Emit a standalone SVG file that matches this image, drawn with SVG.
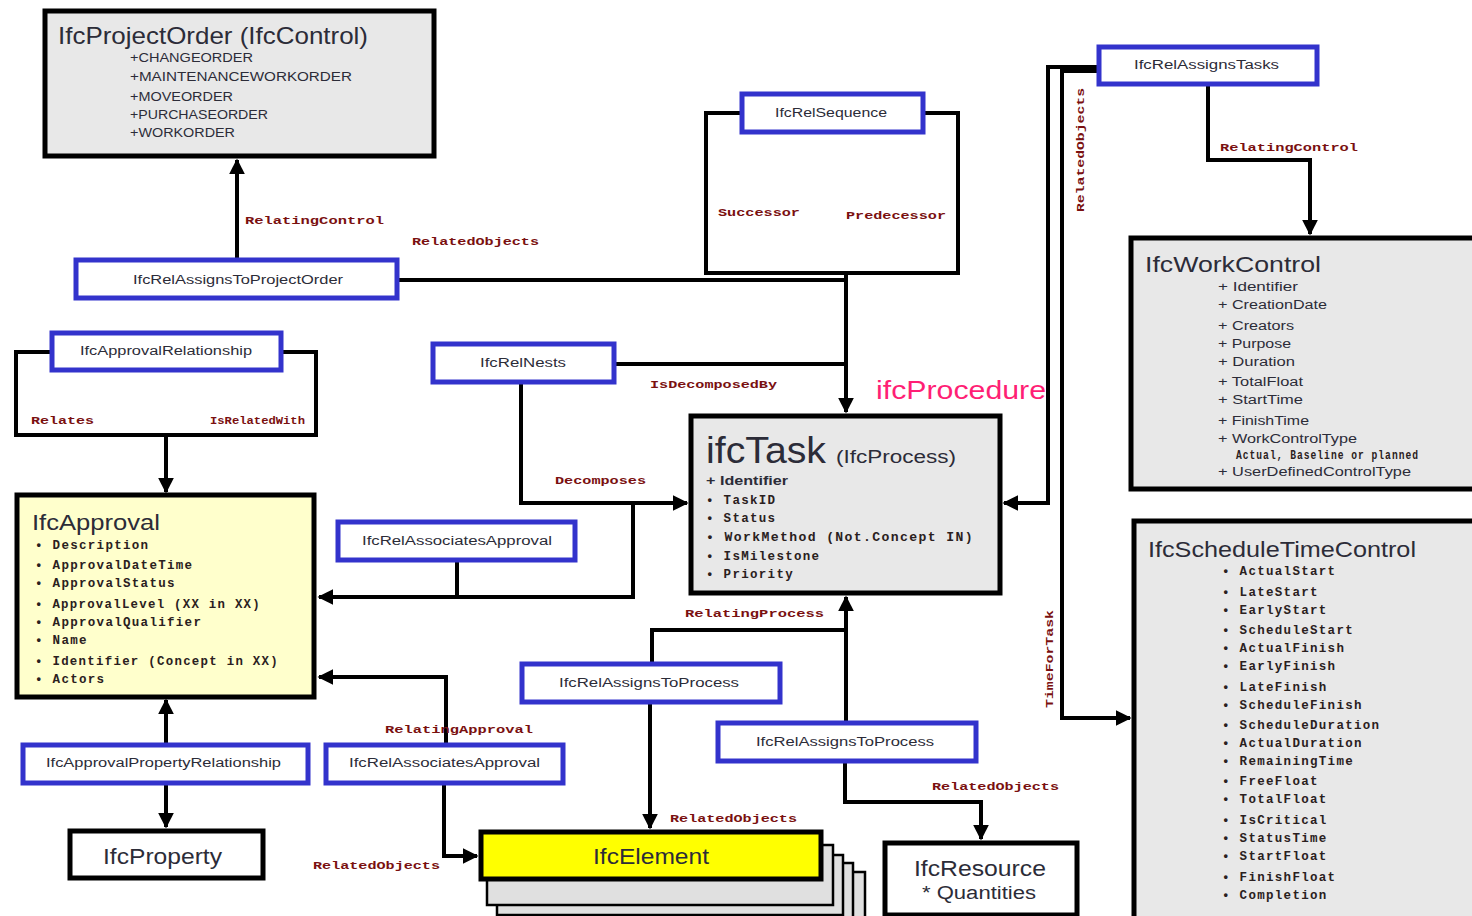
<svg xmlns="http://www.w3.org/2000/svg" width="1472" height="916" viewBox="0 0 1472 916">
<style>
.bg{fill:#ffffff}
.cls{fill:#e8e8e8;stroke:#000;stroke-width:5}
.rel{fill:#ffffff;stroke:#3333cc;stroke-width:5}
.con{fill:none;stroke:#000;stroke-width:4}
.title{font-family:"Liberation Sans",Arial,sans-serif;fill:#2c2c38}
.reltxt{font-family:"Liberation Sans",Arial,sans-serif;font-size:12px;fill:#2c2c38}
.item{font-family:"Liberation Sans",Arial,sans-serif;font-size:12px;fill:#2c2c38}
.mono{font-family:"Liberation Mono",monospace;font-weight:bold;font-size:12.5px;letter-spacing:1.3px;fill:#2a2020}
.lbl{font-family:"Liberation Mono",monospace;font-weight:bold;font-size:11px;fill:#7a1010}
</style>
<defs>
<marker id="arr" viewBox="0 0 10 10" refX="9" refY="5" markerWidth="16" markerHeight="18" orient="auto" markerUnits="userSpaceOnUse">
<path d="M0,0 L10,5 L0,10 z" fill="#000"/>
</marker>
</defs>
<rect class="bg" x="0" y="0" width="1472" height="916"/>

<g id="connectors">
<path class="con" d="M237,259 V160" marker-end="url(#arr)"/>
<path class="con" d="M398,280 H847"/>
<path class="con" d="M741,113 H706 V273 H958 V113 H924" stroke-width="5"/>
<path class="con" d="M846,273 V412" marker-end="url(#arr)"/>
<path class="con" d="M615,364 H846"/>
<path class="con" d="M521,383 V503 H687" marker-end="url(#arr)"/>
<path class="con" d="M633,503 V597 H319" marker-end="url(#arr)"/>
<path class="con" d="M457,561 V597"/>
<path class="con" d="M1098,67 H1048 V503 H1004" marker-end="url(#arr)"/>
<path class="con" d="M1098,71 H1062 V718 H1130" marker-end="url(#arr)"/>
<path class="con" d="M1208,85 V160 H1310 V234" marker-end="url(#arr)"/>
<path class="con" d="M51,352 H16 V435 H316 V352 H282" stroke-width="5"/>
<path class="con" d="M166,435 V492" marker-end="url(#arr)"/>
<path class="con" d="M166,744 V700" marker-end="url(#arr)"/>
<path class="con" d="M166,784 V827" marker-end="url(#arr)"/>
<path class="con" d="M446,744 V677 H319" marker-end="url(#arr)"/>
<path class="con" d="M444,784 V856 H477" marker-end="url(#arr)"/>
<path class="con" d="M652,663 V630 H846"/>
<path class="con" d="M846,722 V597" marker-end="url(#arr)"/>
<path class="con" d="M650,703 V828" marker-end="url(#arr)"/>
<path class="con" d="M845,762 V802 H981 V839" marker-end="url(#arr)"/>

<text class="lbl" x="245" y="224" textLength="139" lengthAdjust="spacingAndGlyphs">RelatingControl</text>
<text class="lbl" x="412" y="245" textLength="127" lengthAdjust="spacingAndGlyphs">RelatedObjects</text>
<text class="lbl" x="718" y="216" textLength="82" lengthAdjust="spacingAndGlyphs">Successor</text>
<text class="lbl" x="846" y="219" textLength="100" lengthAdjust="spacingAndGlyphs">Predecessor</text>
<text class="lbl" x="1220" y="151" textLength="138" lengthAdjust="spacingAndGlyphs">RelatingControl</text>
<text class="lbl" transform="translate(1084,212) rotate(-90)" x="0" y="0" textLength="124" lengthAdjust="spacingAndGlyphs">RelatedObjects</text>
<text class="lbl" transform="translate(1053,708) rotate(-90)" x="0" y="0" textLength="98" lengthAdjust="spacingAndGlyphs">TimeForTask</text>
<text class="lbl" x="31" y="424" textLength="63" lengthAdjust="spacingAndGlyphs">Relates</text>
<text class="lbl" x="210" y="424" textLength="95" lengthAdjust="spacingAndGlyphs">IsRelatedWith</text>
<text class="lbl" x="650" y="388" textLength="127" lengthAdjust="spacingAndGlyphs">IsDecomposedBy</text>
<text class="lbl" x="555" y="484" textLength="91" lengthAdjust="spacingAndGlyphs">Decomposes</text>
<text class="lbl" x="685" y="617" textLength="139" lengthAdjust="spacingAndGlyphs">RelatingProcess</text>
<text class="lbl" x="385" y="733" textLength="148" lengthAdjust="spacingAndGlyphs">RelatingApproval</text>
<text class="lbl" x="670" y="822" textLength="127" lengthAdjust="spacingAndGlyphs">RelatedObjects</text>
<text class="lbl" x="932" y="790" textLength="127" lengthAdjust="spacingAndGlyphs">RelatedObjects</text>
<text class="lbl" x="313" y="869" textLength="127" lengthAdjust="spacingAndGlyphs">RelatedObjects</text>
</g>

<g id="IfcProjectOrder">
<rect class="cls" x="45" y="11" width="389" height="145"/>
<text class="title" x="58" y="44" font-size="24" textLength="310" lengthAdjust="spacingAndGlyphs">IfcProjectOrder (IfcControl)</text>
<text class="item" x="130" y="62" textLength="123" lengthAdjust="spacingAndGlyphs">+CHANGEORDER</text>
<text class="item" x="130" y="81" textLength="222" lengthAdjust="spacingAndGlyphs">+MAINTENANCEWORKORDER</text>
<text class="item" x="130" y="101" textLength="103" lengthAdjust="spacingAndGlyphs">+MOVEORDER</text>
<text class="item" x="130" y="119" textLength="138" lengthAdjust="spacingAndGlyphs">+PURCHASEORDER</text>
<text class="item" x="130" y="137" textLength="105" lengthAdjust="spacingAndGlyphs">+WORKORDER</text>
</g>

<g id="IfcRelAssignsToProjectOrder">
<rect class="rel" x="76" y="260" width="321" height="38"/>
<text class="reltxt" x="133" y="284" textLength="210" lengthAdjust="spacingAndGlyphs">IfcRelAssignsToProjectOrder</text>
</g>

<g id="IfcRelSequence">
<rect class="rel" x="742" y="94" width="181" height="38"/>
<text class="reltxt" x="775" y="117" textLength="112" lengthAdjust="spacingAndGlyphs">IfcRelSequence</text>
</g>

<g id="IfcRelAssignsTasks">
<rect class="rel" x="1099" y="47" width="218" height="37"/>
<text class="reltxt" x="1134" y="69" textLength="145" lengthAdjust="spacingAndGlyphs">IfcRelAssignsTasks</text>
</g>

<g id="IfcWorkControl">
<rect class="cls" x="1131" y="238" width="350" height="251"/>
<text class="title" x="1145" y="272" font-size="22" textLength="176" lengthAdjust="spacingAndGlyphs">IfcWorkControl</text>
<text class="item" x="1218" y="291" textLength="80" lengthAdjust="spacingAndGlyphs">+ Identifier</text>
<text class="item" x="1218" y="309" textLength="109" lengthAdjust="spacingAndGlyphs">+ CreationDate</text>
<text class="item" x="1218" y="330" textLength="76" lengthAdjust="spacingAndGlyphs">+ Creators</text>
<text class="item" x="1218" y="348" textLength="73" lengthAdjust="spacingAndGlyphs">+ Purpose</text>
<text class="item" x="1218" y="366" textLength="77" lengthAdjust="spacingAndGlyphs">+ Duration</text>
<text class="item" x="1218" y="386" textLength="85" lengthAdjust="spacingAndGlyphs">+ TotalFloat</text>
<text class="item" x="1218" y="404" textLength="85" lengthAdjust="spacingAndGlyphs">+ StartTime</text>
<text class="item" x="1218" y="425" textLength="91" lengthAdjust="spacingAndGlyphs">+ FinishTime</text>
<text class="item" x="1218" y="443" textLength="139" lengthAdjust="spacingAndGlyphs">+ WorkControlType</text>
<text class="mono" x="1236" y="459" font-size="10" textLength="183" lengthAdjust="spacingAndGlyphs">Actual, Baseline or planned</text>
<text class="item" x="1218" y="476" textLength="193" lengthAdjust="spacingAndGlyphs">+ UserDefinedControlType</text>
</g>

<g id="IfcScheduleTimeControl">
<rect class="cls" x="1134" y="521" width="350" height="400"/>
<text class="title" x="1148" y="557" font-size="22" textLength="268" lengthAdjust="spacingAndGlyphs">IfcScheduleTimeControl</text>
<g class="mono">
<text x="1222" y="575">• ActualStart</text>
<text x="1222" y="596">• LateStart</text>
<text x="1222" y="614">• EarlyStart</text>
<text x="1222" y="634">• ScheduleStart</text>
<text x="1222" y="652">• ActualFinish</text>
<text x="1222" y="670">• EarlyFinish</text>
<text x="1222" y="691">• LateFinish</text>
<text x="1222" y="709">• ScheduleFinish</text>
<text x="1222" y="729">• ScheduleDuration</text>
<text x="1222" y="747">• ActualDuration</text>
<text x="1222" y="765">• RemainingTime</text>
<text x="1222" y="785">• FreeFloat</text>
<text x="1222" y="803">• TotalFloat</text>
<text x="1222" y="824">• IsCritical</text>
<text x="1222" y="842">• StatusTime</text>
<text x="1222" y="860">• StartFloat</text>
<text x="1222" y="881">• FinishFloat</text>
<text x="1222" y="899">• Completion</text>
</g>
</g>

<g id="ifcProcedure">
<text x="876" y="399" font-family="Liberation Sans, Arial, sans-serif" font-size="26" fill="#ff1f75" textLength="170" lengthAdjust="spacingAndGlyphs">ifcProcedure</text>
</g>

<g id="ifcTask">
<rect class="cls" x="691" y="416" width="309" height="177"/>
<text class="title" x="706" y="463" font-size="36" textLength="120" lengthAdjust="spacingAndGlyphs">ifcTask</text>
<text class="title" x="836" y="463" font-size="18" textLength="120" lengthAdjust="spacingAndGlyphs">(IfcProcess)</text>
<text class="item" x="706" y="485" font-weight="bold" textLength="82" lengthAdjust="spacingAndGlyphs">+ Identifier</text>
<text class="mono" x="706" y="504">• TaskID</text>
<text class="mono" x="706" y="522">• Status</text>
<text class="mono" x="706" y="541" textLength="268" lengthAdjust="spacingAndGlyphs">• WorkMethod (Not.Concept IN)</text>
<text class="mono" x="706" y="560">• IsMilestone</text>
<text class="mono" x="706" y="578">• Priority</text>
</g>

<g id="IfcRelNests">
<rect class="rel" x="433" y="344" width="181" height="38"/>
<text class="reltxt" x="480" y="367" textLength="86" lengthAdjust="spacingAndGlyphs">IfcRelNests</text>
</g>

<g id="IfcApprovalRelationship">
<rect class="rel" x="52" y="333" width="229" height="37"/>
<text class="reltxt" x="80" y="355" textLength="172" lengthAdjust="spacingAndGlyphs">IfcApprovalRelationship</text>
</g>

<g id="IfcApproval">
<rect x="17" y="495" width="297" height="202" fill="#ffffcc" stroke="#000" stroke-width="5"/>
<text class="title" x="32" y="530" font-size="22" textLength="128" lengthAdjust="spacingAndGlyphs">IfcApproval</text>
<text class="mono" x="35" y="549">• Description</text>
<text class="mono" x="35" y="569">• ApprovalDateTime</text>
<text class="mono" x="35" y="587">• ApprovalStatus</text>
<text class="mono" x="35" y="608" textLength="226" lengthAdjust="spacingAndGlyphs">• ApprovalLevel (XX in XX)</text>
<text class="mono" x="35" y="626">• ApprovalQualifier</text>
<text class="mono" x="35" y="644">• Name</text>
<text class="mono" x="35" y="665" textLength="244" lengthAdjust="spacingAndGlyphs">• Identifier (Concept in XX)</text>
<text class="mono" x="35" y="683">• Actors</text>
</g>

<g id="IfcRelAssociatesApproval1">
<rect class="rel" x="338" y="522" width="237" height="38"/>
<text class="reltxt" x="362" y="545" textLength="190" lengthAdjust="spacingAndGlyphs">IfcRelAssociatesApproval</text>
</g>

<g id="IfcRelAssociatesApproval2">
<rect class="rel" x="326" y="745" width="237" height="38"/>
<text class="reltxt" x="349" y="767" textLength="191" lengthAdjust="spacingAndGlyphs">IfcRelAssociatesApproval</text>
</g>

<g id="IfcApprovalPropertyRelationship">
<rect class="rel" x="23" y="745" width="285" height="38"/>
<text class="reltxt" x="46" y="767" textLength="235" lengthAdjust="spacingAndGlyphs">IfcApprovalPropertyRelationship</text>
</g>

<g id="IfcProperty">
<rect x="70" y="831" width="193" height="47" fill="#fff" stroke="#000" stroke-width="5"/>
<text class="title" x="103" y="864" font-size="22" textLength="119" lengthAdjust="spacingAndGlyphs">IfcProperty</text>
</g>

<g id="IfcRelAssignsToProcess1">
<rect class="rel" x="522" y="664" width="258" height="38"/>
<text class="reltxt" x="559" y="687" textLength="180" lengthAdjust="spacingAndGlyphs">IfcRelAssignsToProcess</text>
</g>

<g id="IfcRelAssignsToProcess2">
<rect class="rel" x="718" y="723" width="258" height="38"/>
<text class="reltxt" x="756" y="746" textLength="178" lengthAdjust="spacingAndGlyphs">IfcRelAssignsToProcess</text>
</g>

<g id="IfcElement">
<rect x="519" y="872" width="346" height="60" fill="#e0e0e0" stroke="#000" stroke-width="2.5"/>
<rect x="508" y="863" width="345" height="60" fill="#e0e0e0" stroke="#000" stroke-width="2.5"/>
<rect x="497" y="855" width="346" height="60" fill="#e0e0e0" stroke="#000" stroke-width="2.5"/>
<rect x="487" y="845" width="346" height="60" fill="#e0e0e0" stroke="#000" stroke-width="2.5"/>
<rect x="481" y="832" width="340" height="47" fill="#ffff00" stroke="#000" stroke-width="5"/>
<text class="title" x="593" y="864" font-size="22" textLength="116" lengthAdjust="spacingAndGlyphs">IfcElement</text>
</g>

<g id="IfcResource">
<rect x="885" y="843" width="192" height="72" fill="#fff" stroke="#000" stroke-width="5"/>
<text class="title" x="914" y="876" font-size="22" textLength="132" lengthAdjust="spacingAndGlyphs">IfcResource</text>
<text class="title" x="922" y="899" font-size="18" textLength="114" lengthAdjust="spacingAndGlyphs">* Quantities</text>
</g>
</svg>
